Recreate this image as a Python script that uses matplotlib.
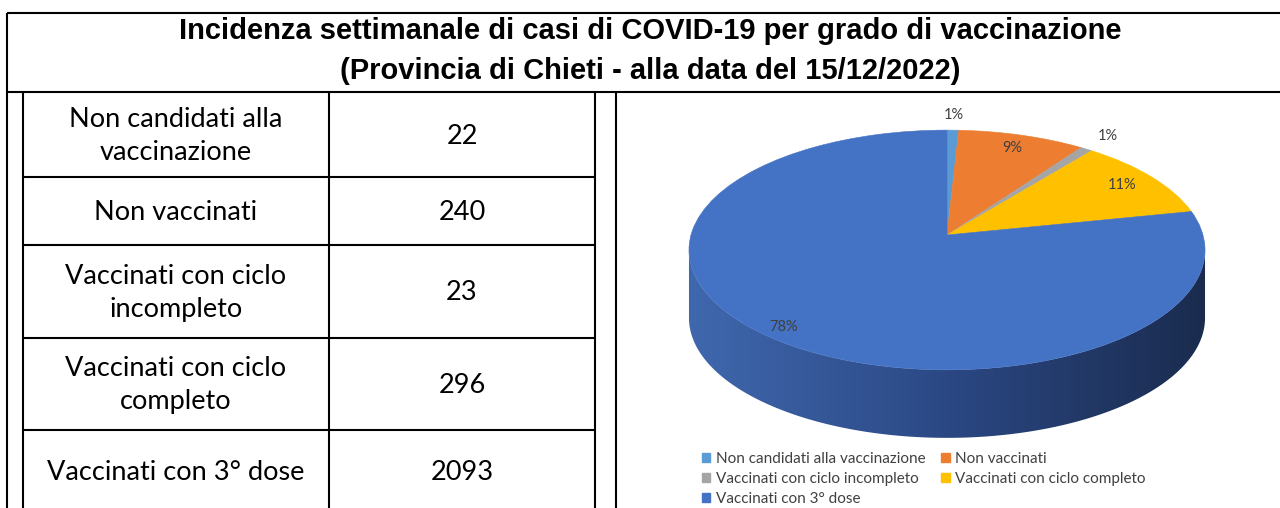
import numpy as np
import matplotlib
matplotlib.use("Agg")
import matplotlib.pyplot as plt
from matplotlib.patches import Rectangle, Polygon
from matplotlib.transforms import Transform

# ---------------- data ----------------
categories = ["Non candidati alla vaccinazione", "Non vaccinati",
              "Vaccinati con ciclo incompleto", "Vaccinati con ciclo completo",
              "Vaccinati con 3° dose"]
table_labels = ["Non candidati alla\nvaccinazione", "Non vaccinati",
                "Vaccinati con ciclo\nincompleto", "Vaccinati con ciclo\ncompleto",
                "Vaccinati con 3° dose"]
cases = [22, 240, 23, 296, 2093]
pct_labels = ["1%", "9%", "1%", "11%", "78%"]
colors = ["#5B9BD5", "#ED7D31", "#A5A5A5", "#FFC000", "#4472C4"]
title_lines = ["Incidenza settimanale di casi di COVID-19 per grado di vaccinazione",
               "(Provincia di Chieti - alla data del 15/12/2022)"]

# ---------------- layout ----------------
W, H = 1280, 508
fig = plt.figure(figsize=(W / 100, H / 100), dpi=100)
bg = fig.add_axes([0, 0, 1, 1])
bg.set_xlim(0, W)
bg.set_ylim(H, 0)
bg.axis("off")

LW = 1.5
k = dict(color="black", lw=LW, solid_capstyle="butt")
frame_left, frame_top, title_bot = 7, 13, 92
bg.plot([frame_left, W], [frame_top, frame_top], **k)
bg.plot([frame_left, frame_left], [frame_top, H], **k)
bg.plot([frame_left, W], [title_bot, title_bot], **k)

tab_x = [22.5, 329, 595]
row_y = [title_bot, 177, 245, 338, 430, 512]
panel_left = 616
for x in tab_x + [panel_left]:
    bg.plot([x, x], [title_bot, H], **k)
for y in row_y[1:-1]:
    bg.plot([tab_x[0], tab_x[-1]], [y, y], **k)

title_y = [31, 71]
for t, y in zip(title_lines, title_y):
    bg.text(650, y, t, ha="center", va="center", fontsize=21, fontweight="bold",
            family="Liberation Sans", color="black")

c1 = (tab_x[0] + tab_x[1]) / 2
c2 = (tab_x[1] + tab_x[2]) / 2
for i, (lab, val) in enumerate(zip(table_labels, cases)):
    yc = (row_y[i] + row_y[i + 1]) / 2 + 1.5
    bg.text(c1, yc, lab, ha="center", va="center", fontsize=19.5, family="Lato",
            linespacing=1.4, color="black")
    bg.text(c2, yc, str(val), ha="center", va="center", fontsize=19.5, family="Lato",
            color="black")

# ---------------- 3D pie ----------------
CX, CY, A, S, P = 947, 235, 256, 118, 0.125
DEPTH = 68


class Persp(Transform):
    input_dims = output_dims = 2
    is_separable = False
    has_inverse = False

    def transform_non_affine(self, xy):
        xy = np.asarray(xy, float)
        u, v = xy[:, 0], xy[:, 1]
        d = 1 + P * v
        return np.column_stack([CX + A * u / d, CY - S * v / d])


persp = Persp()
tr = persp + bg.transData

# side (front rim): polygon filled with a left-to-right gradient image
t0 = np.pi + np.arcsin(P)
t1 = 2 * np.pi - np.arcsin(P)
ts = np.linspace(t0, t1, 300)
rim = persp.transform(np.column_stack([np.cos(ts), np.sin(ts)]))
side_pts = np.vstack([rim, (rim + [0, DEPTH])[::-1]])
side_poly = Polygon(side_pts, closed=True, transform=bg.transData,
                    facecolor="none", edgecolor="none")
bg.add_patch(side_poly)
stops = np.array([[0x40, 0x68, 0xAE], [0x2B, 0x48, 0x84], [0x1A, 0x2B, 0x4D]]) / 255
xmin, xmax = rim[:, 0].min(), rim[:, 0].max()
fx = np.linspace(0, 1, 256)
grad = np.empty((1, 256, 3))
for c in range(3):
    grad[0, :, c] = np.interp(fx, [0, 0.5, 1], stops[:, c])
img = bg.imshow(grad, extent=[xmin - 2, xmax + 2, rim[:, 1].max() + DEPTH + 2,
                              rim[:, 1].min() - 2],
                aspect="auto", interpolation="bilinear", zorder=2)
img.set_clip_path(side_poly)

wedges, _ = bg.pie(cases, colors=colors, startangle=90, counterclock=False,
                   radius=1, center=(0, 0), frame=True,
                   wedgeprops=dict(linewidth=0.4))
for w in wedges:
    w.set_transform(tr)
    w.set_edgecolor(w.get_facecolor())
    w.set_zorder(3)
bg.set_aspect("auto")
bg.set_xlim(0, W)
bg.set_ylim(H, 0)
bg.axis("off")

inside_r = [None, 0.86, None, 0.85, 0.92]
for w, lab, ri in zip(wedges, pct_labels, inside_r):
    mid = np.deg2rad((w.theta1 + w.theta2) / 2)
    r = 1.17 if ri is None else ri
    x, y = persp.transform(np.array([[r * np.cos(mid), r * np.sin(mid)]]))[0]
    bg.text(x, y, lab, ha="center", va="center", fontsize=10.5, family="Lato",
            color="#404040", zorder=5)

# legend (row-major order like the reference)
handles = [Rectangle((0, 0), 1, 1, color=c) for c in colors]
order = [0, 2, 4, 1, 3]
leg = bg.legend([handles[i] for i in order], [categories[i] for i in order],
                ncol=2, loc="upper left", bbox_to_anchor=(702 / W, 1 - 452 / H),
                bbox_transform=fig.transFigure, frameon=False,
                handlelength=0.55, handleheight=0.55, handletextpad=0.35,
                labelspacing=0.38, columnspacing=1.05, borderpad=0, borderaxespad=0,
                prop=dict(family="Lato", size=11))
for t in leg.get_texts():
    t.set_color("#404040")

fig.savefig("out.png", dpi=100)
